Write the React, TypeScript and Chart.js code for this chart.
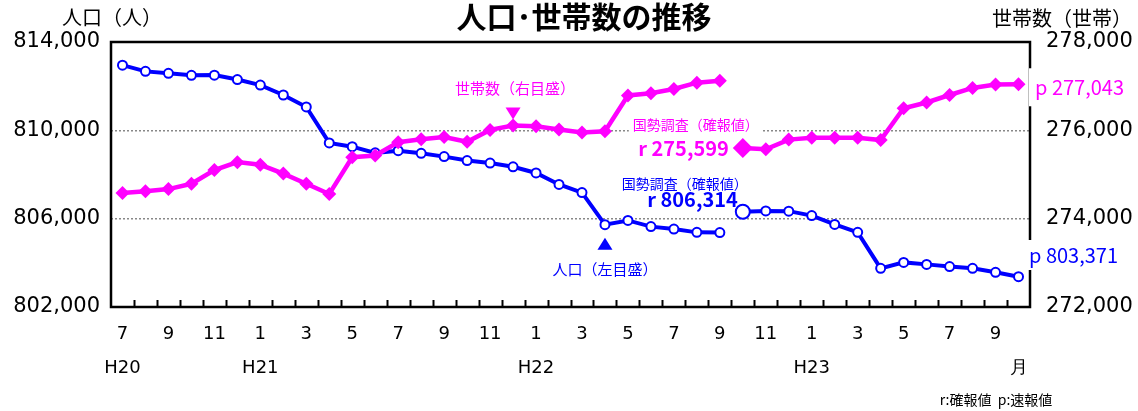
import React, { useEffect, useRef } from "react";
import { Chart, registerables } from "chart.js";

Chart.register(...registerables);

// Months: H20.7 (Jul 2008) .. H23.10 (Oct 2011)
const months = [
  "H20.7", "H20.8", "H20.9", "H20.10", "H20.11", "H20.12",
  "H21.1", "H21.2", "H21.3", "H21.4", "H21.5", "H21.6", "H21.7", "H21.8", "H21.9", "H21.10", "H21.11", "H21.12",
  "H22.1", "H22.2", "H22.3", "H22.4", "H22.5", "H22.6", "H22.7", "H22.8", "H22.9", "H22.10", "H22.11", "H22.12",
  "H23.1", "H23.2", "H23.3", "H23.4", "H23.5", "H23.6", "H23.7", "H23.8", "H23.9", "H23.10",
];
const monthTicks = [
  "7", "", "9", "", "11", "", "1", "", "3", "", "5", "", "7", "", "9", "", "11", "", "1", "",
  "3", "", "5", "", "7", "", "9", "", "11", "", "1", "", "3", "", "5", "", "7", "", "9", "",
];
const yearTicks = [
  "H20", "", "", "", "", "", "H21", "", "", "", "", "", "", "", "", "", "", "", "H22", "",
  "", "", "", "", "", "", "", "", "", "", "H23", "", "", "", "", "", "", "", "", "月",
];

// Population (left axis) – estimates before the census (Jul 2008 – Sep 2010)
const popBefore = [
  812950, 812670, 812580, 812490, 812500, 812300, 812050, 811600, 811060, 809430,
  809260, 808980, 809080, 808960, 808810, 808630, 808520, 808350, 808070, 807550,
  807180, 805730, 805920, 805640, 805530, 805380, 805370,
];
// Population from the census (Oct 2010 – Oct 2011)
const popAfter = [
  806314, 806350, 806340, 806140, 805740, 805380, 803750, 804020, 803930, 803830, 803750, 803570, 803371,
];
// Households (right axis)
const hhBefore = [
  274580, 274620, 274670, 274790, 275100, 275280, 275220, 275020, 274790, 274560,
  275390, 275430, 275730, 275800, 275850, 275740, 276010, 276110, 276090, 276020,
  275950, 275980, 276790, 276840, 276935, 277080, 277120,
];
const hhAfter = [
  275599, 275570, 275790, 275830, 275830, 275830, 275780, 276500, 276630, 276800, 276960, 277035, 277043,
];

const leftTicks = [802000, 806000, 810000, 814000];
const rightTicks = [272000, 274000, 276000, 278000];

const BLUE = "#0000FF";
const MAGENTA = "#FF00FF";
const JP = '"Noto Sans CJK JP", "Noto Sans", sans-serif';
const NUM = '"DejaVu Sans", sans-serif';

const nBefore = popBefore.length;
const pad = (arr: number[], before: number, total: number) => {
  const out: (number | null)[] = [];
  for (let i = 0; i < total; i++) {
    const j = i - before;
    out.push(j >= 0 && j < arr.length ? arr[j] : null);
  }
  return out;
};
const fmt = (v: number) => v.toLocaleString("en-US");

export default function App() {
  const ref = useRef<HTMLCanvasElement>(null);

  useEffect(() => {
    const canvas = ref.current!;
    const N = months.length;

    const text = (
      ctx: CanvasRenderingContext2D, s: string, x: number, y: number, font: string,
      color: string, align: CanvasTextAlign = "center", bg?: { h: number; padX: number }
    ) => {
      ctx.save();
      ctx.font = font;
      ctx.textAlign = align;
      ctx.textBaseline = "middle";
      if (bg) {
        const w = ctx.measureText(s).width;
        let x0 = x;
        if (align === "center") x0 = x - w / 2;
        else if (align === "right") x0 = x - w;
        ctx.fillStyle = "#FFFFFF";
        ctx.fillRect(x0 - bg.padX, y - bg.h / 2, w + bg.padX * 2, bg.h);
      }
      ctx.fillStyle = color;
      ctx.fillText(s, x, y);
      ctx.restore();
    };

    const tri = (ctx: CanvasRenderingContext2D, cx: number, cy: number, w: number, h: number, up: boolean, color: string) => {
      ctx.save();
      ctx.fillStyle = color;
      ctx.beginPath();
      if (up) {
        ctx.moveTo(cx, cy - h / 2);
        ctx.lineTo(cx + w / 2, cy + h / 2);
        ctx.lineTo(cx - w / 2, cy + h / 2);
      } else {
        ctx.moveTo(cx - w / 2, cy - h / 2);
        ctx.lineTo(cx + w / 2, cy - h / 2);
        ctx.lineTo(cx, cy + h / 2);
      }
      ctx.closePath();
      ctx.fill();
      ctx.restore();
    };

    const decor = {
      id: "decor",
      beforeDatasetsDraw(chart: any) {
        const { ctx, chartArea: a } = chart;
        const xs = chart.scales.x;
        ctx.save();
        ctx.strokeStyle = "#000";
        ctx.lineWidth = 2;
        for (let i = 0; i < N - 1; i++) {
          const px = Math.round((xs.getPixelForValue(i) + xs.getPixelForValue(i + 1)) / 2) + 0.5;
          ctx.beginPath();
          ctx.moveTo(px, a.bottom);
          ctx.lineTo(px, a.bottom - 7);
          ctx.stroke();
        }
        ctx.lineWidth = 2.5;
        ctx.strokeRect(a.left, a.top, a.right - a.left, a.bottom - a.top);
        ctx.restore();
      },
      afterDatasetsDraw(chart: any) {
        const { ctx, chartArea: a } = chart;
        const xs = chart.scales.x, yl = chart.scales.y, yr = chart.scales.y1;

        // header
        text(ctx, "人口（人）", 112, 17, `20px ${JP}`, "#000");
        text(ctx, "人口･世帯数の推移", 584, 17, `bold 30px ${JP}`, "#000");
        text(ctx, "世帯数（世帯）", 1062, 18, `20px ${JP}`, "#000");

        // household marker (Dec 2009)
        const iH = 17;
        const hx = xs.getPixelForValue(iH), hy = yr.getPixelForValue(hhBefore[iH]);
        tri(ctx, hx, hy - 12, 15, 12, false, MAGENTA);
        text(ctx, "世帯数（右目盛）", hx + 2, 88, `15px ${JP}`, MAGENTA);

        // population marker (Apr 2010)
        const iP = 21;
        const px = xs.getPixelForValue(iP), py = yl.getPixelForValue(popBefore[iP]);
        tri(ctx, px, py + 19, 15, 12, true, BLUE);
        text(ctx, "人口（左目盛）", px, 269, `15px ${JP}`, BLUE);

        // census labels
        const cx = xs.getPixelForValue(nBefore);
        const chy = yr.getPixelForValue(hhAfter[0]);
        text(ctx, "国勢調査（確報値）", cx - 47, chy - 23, `14px ${JP}`, MAGENTA, "center", { h: 18, padX: 4 });
        text(ctx, "r 275,599", cx - 14, chy, `bold 20px ${JP}`, MAGENTA, "right");
        const cpy = yl.getPixelForValue(popAfter[0]);
        text(ctx, "国勢調査（確報値）", cx - 58, cpy - 28, `14px ${JP}`, BLUE, "center");
        text(ctx, "r 806,314", cx - 5, cpy - 12, `bold 20px ${JP}`, BLUE, "right");

        // latest (preliminary) values at right edge
        text(ctx, "p " + fmt(hhAfter[hhAfter.length - 1]), a.right + 5, yr.getPixelForValue(hhAfter[hhAfter.length - 1]) + 3,
          `20px ${JP}`, MAGENTA, "left", { h: 38, padX: 6 });
        text(ctx, "p " + fmt(popAfter[popAfter.length - 1]), a.right - 1, 255,
          `20px ${JP}`, BLUE, "left", { h: 30, padX: 4 });

        // footnote
        text(ctx, "r:確報値  p:速報値", 996, 400, `14px ${JP}`, "#000");
      },
    };

    const chart = new Chart(canvas, {
      type: "line",
      data: {
        labels: months,
        datasets: [
          {
            label: "世帯数",
            yAxisID: "y1",
            data: pad(hhBefore, 0, N),
            borderColor: MAGENTA,
            backgroundColor: MAGENTA,
            borderWidth: 4.5,
            pointStyle: "rectRot",
            pointRadius: 7,
            pointBorderWidth: 0,
            pointBackgroundColor: MAGENTA,
            spanGaps: false,
            tension: 0,
          },
          {
            label: "世帯数（国勢調査以降）",
            yAxisID: "y1",
            data: pad(hhAfter, nBefore, N),
            borderColor: MAGENTA,
            backgroundColor: MAGENTA,
            borderWidth: 4.5,
            pointStyle: "rectRot",
            pointRadius: (c: any) => (c.dataIndex === nBefore ? 10 : 7),
            pointBorderWidth: 0,
            pointBackgroundColor: MAGENTA,
            spanGaps: false,
            tension: 0,
          },
          {
            label: "人口",
            yAxisID: "y",
            data: pad(popBefore, 0, N),
            borderColor: BLUE,
            backgroundColor: "#FFFFFF",
            borderWidth: 4,
            pointStyle: "circle",
            pointRadius: 4.5,
            pointBorderWidth: 2,
            pointBorderColor: BLUE,
            pointBackgroundColor: "#FFFFFF",
            spanGaps: false,
            tension: 0,
          },
          {
            label: "人口（国勢調査以降）",
            yAxisID: "y",
            data: pad(popAfter, nBefore, N),
            borderColor: BLUE,
            backgroundColor: "#FFFFFF",
            borderWidth: 4,
            pointStyle: "circle",
            pointRadius: (c: any) => (c.dataIndex === nBefore ? 7 : 4.5),
            pointBorderWidth: 2,
            pointBorderColor: BLUE,
            pointBackgroundColor: "#FFFFFF",
            spanGaps: false,
            tension: 0,
          },
        ],
      },
      options: {
        responsive: false,
        animation: false,
        events: [],
        layout: { padding: { top: 42, left: 0, right: 0, bottom: 0 } },
        plugins: { legend: { display: false }, tooltip: { enabled: false }, title: { display: false } },
        scales: {
          x: {
            type: "category",
            offset: true,
            grid: { display: false, drawTicks: false },
            border: { display: false },
            afterFit: (s: any) => { s.height = 104; },
            ticks: {
              autoSkip: false,
              maxRotation: 0,
              minRotation: 0,
              padding: 10,
              color: "#000",
              font: { family: NUM, size: 18, lineHeight: 1.9 },
              callback: (_v: any, i: number) => [monthTicks[i], yearTicks[i]],
            },
          },
          y: {
            position: "left",
            min: leftTicks[0],
            max: leftTicks[leftTicks.length - 1],
            afterBuildTicks: (s: any) => { s.ticks = leftTicks.map((v) => ({ value: v })); },
            afterFit: (s: any) => { s.width = 111; },
            grid: {
              drawTicks: false,
              lineWidth: 1.5,
              color: (c: any) => (c.tick && (c.tick.value === 806000 || c.tick.value === 810000) ? "#888888" : "rgba(0,0,0,0)"),
            },
            border: { display: false, dash: [2, 2] },
            ticks: {
              padding: 11,
              color: "#000",
              font: { family: NUM, size: 21 },
              callback: (v: any) => fmt(Number(v)),
            },
          },
          y1: {
            position: "right",
            min: rightTicks[0],
            max: rightTicks[rightTicks.length - 1],
            afterBuildTicks: (s: any) => { s.ticks = rightTicks.map((v) => ({ value: v })); },
            afterFit: (s: any) => { s.width = 108; },
            grid: { display: false, drawTicks: false },
            border: { display: false },
            ticks: {
              padding: 16,
              color: "#000",
              font: { family: NUM, size: 21 },
              callback: (v: any) => fmt(Number(v)),
            },
          },
        },
      },
      plugins: [decor],
    } as any);

    return () => chart.destroy();
  }, []);

  return (
    <div style={{ position: "absolute", left: 0, top: 0, width: 1138, height: 411, background: "#fff" }}>
      <canvas ref={ref} width={1138} height={411} style={{ display: "block" }} />
    </div>
  );
}
